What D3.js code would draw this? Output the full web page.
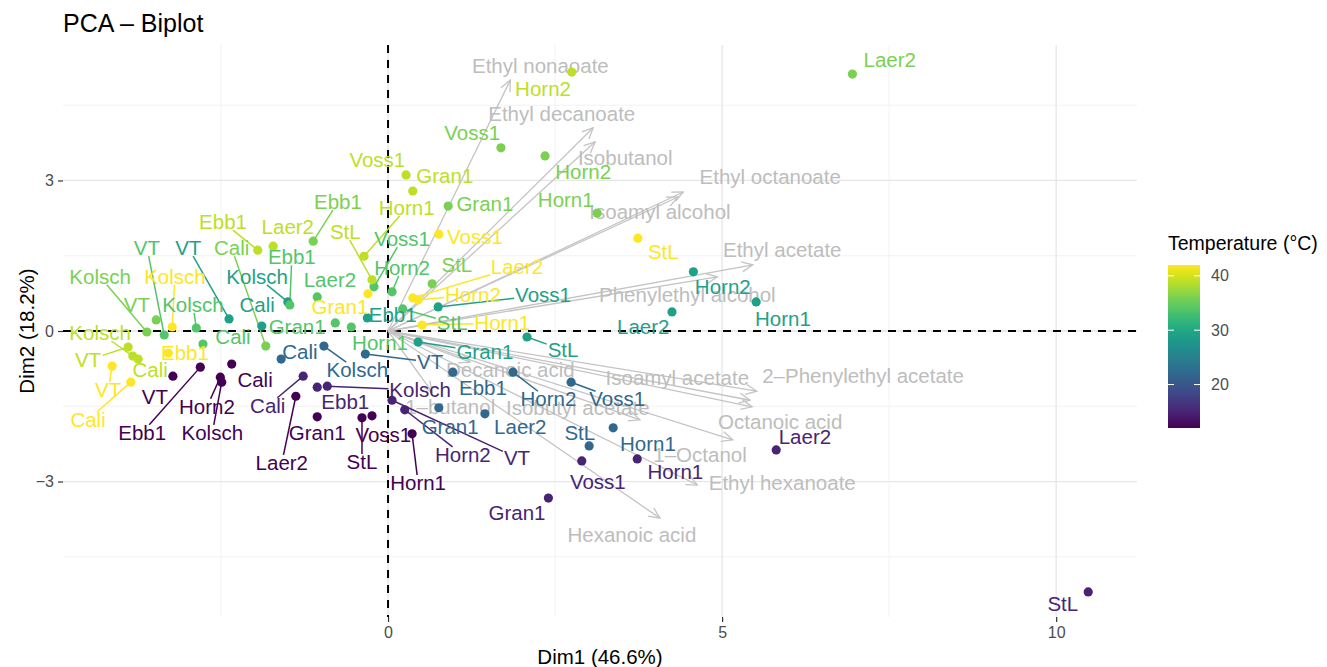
<!DOCTYPE html>
<html>
<head>
<meta charset="utf-8">
<script src="https://cdn.jsdelivr.net/npm/d3@7"></script>
<style>
  body { margin: 0; background: #fff; }
  text { font-family: "Liberation Sans", Arial, Helvetica, sans-serif; }
</style>
</head>
<body>
<svg id="chart" width="1327" height="667"></svg>
<script>
// individuals (strain x temperature), grouped by temperature
const indNames = [
  "VT","Ebb1","Horn2","Kolsch","Cali","Laer2","Gran1","StL","Voss1","Horn1",
  "Cali","Ebb1","Kolsch","VT","Horn2","Gran1","Voss1","Horn1","Laer2","StL",
  "Cali","Kolsch","VT","Ebb1","Horn2","Voss1","Gran1","Laer2","Horn1","StL",
  "VT","Kolsch","Cali","Ebb1","Voss1","Gran1","StL","Horn2","Horn1","Laer2",
  "VT","Kolsch","Ebb1","Laer2","Voss1","Horn2","Gran1","Horn1","StL","Cali",
  "Kolsch","VT","Cali","Ebb1","StL","Gran1","Voss1","Horn2","Horn1","Laer2",
  "Ebb1","Laer2","StL","Horn1","Voss1","Gran1","Horn2","Kolsch","VT","Cali",
  "Kolsch","VT","Cali","Ebb1","Gran1","Voss1","StL","Laer2","Horn2","Horn1"
];
const indTemp = [
  12,12,12,12,12,12,12,12,12,12,
  15,15,15,15,15,15,15,15,15,15,
  22,22,22,22,22,22,22,22,22,22,
  29,29,29,29,29,29,29,29,29,29,
  34,34,34,34,34,34,34,34,34,34,
  36,36,36,36,36,36,36,36,36,36,
  39,39,39,39,39,39,39,39,39,39,
  42,42,42,42,42,42,42,42,42,42
];
const indDim1 = [
  -3.22,-2.81,-2.51,-2.49,-2.34,-1.38,-1.06,-0.39,-0.24,0.36,
  -1.27,-1.06,-0.91,0.06,0.25,2.40,2.90,3.73,5.81,10.48,
  -1.60,-0.96,-0.34,0.97,1.87,2.74,0.76,1.45,3.37,3.01,
  -2.38,-1.50,-1.89,-0.31,0.75,0.45,2.08,4.57,5.51,4.25,
  -3.35,-2.87,-1.47,-1.06,-0.21,0.06,-0.79,-0.55,0.22,-2.77,
  -3.61,-3.47,-1.83,-1.12,0.66,0.90,1.69,2.35,3.13,6.95,
  -1.95,-1.72,-0.24,-0.36,0.27,0.37,2.75,-3.82,-3.89,-3.74,
  -3.23,-4.13,-3.85,-3.29,-0.30,0.76,3.74,0.37,0.45,0.51
];
const indDim2 = [
  -0.90,-0.72,-0.92,-1.02,-0.66,-1.30,-1.71,-1.73,-1.69,-2.05,
  -0.90,-1.12,-1.10,-1.38,-1.57,-3.33,-2.59,-2.55,-2.37,-5.20,
  -0.56,-0.30,-0.46,-0.82,-0.82,-1.02,-1.53,-1.65,-1.93,-2.29,
  0.24,0.58,0.10,0.26,0.48,-0.22,-0.12,1.18,0.58,0.38,
  -0.08,0.06,0.52,0.68,0.88,0.78,0.16,0.08,0.44,-0.26,
  -0.02,0.22,-0.30,1.79,0.94,2.49,3.65,3.49,2.35,5.12,
  1.61,1.69,1.02,1.49,3.11,2.79,5.16,-0.50,-0.32,-0.56,
  0.08,-0.70,-1.02,-0.44,0.74,1.93,1.85,0.66,0.62,0.12
];
// repelled label positions, same units
const labDim1 = [
  -3.49,-3.68,-2.71,-2.63,-1.99,-1.59,-1.06,-0.39,-0.07,0.45,
  -1.80,-0.64,0.48,1.93,1.12,1.93,3.14,4.30,6.24,10.10,
  -1.32,-0.46,0.63,1.42,2.40,3.43,0.93,1.98,3.89,2.87,
  -2.99,-1.96,-1.96,0.07,2.32,1.45,2.62,5.01,5.91,3.82,
  -3.61,-2.92,-1.44,-0.87,0.21,0.21,-1.36,-0.12,0.96,-2.32,
  -4.31,-3.76,-2.34,-0.75,1.03,1.45,1.26,2.92,2.66,7.51,
  -2.47,-1.50,-0.64,0.28,-0.16,0.85,2.32,-4.31,-4.49,-3.56,
  -3.19,-4.19,-4.49,-3.04,-0.72,1.30,4.12,1.93,1.27,1.71
];
const labDim2 = [
  -1.32,-2.03,-1.51,-2.03,-0.98,-2.63,-2.03,-2.61,-2.07,-3.03,
  -1.49,-1.42,-1.18,-2.53,-2.47,-3.63,-3.01,-2.81,-2.11,-5.44,
  -0.42,-0.78,-0.62,-1.14,-1.36,-1.36,-1.91,-1.91,-2.25,-2.03,
  1.65,1.08,0.52,0.32,0.72,-0.42,-0.38,0.88,0.24,0.08,
  1.65,0.52,1.47,1.02,1.83,1.26,0.08,-0.24,0.16,-0.12,
  1.08,0.52,1.65,2.57,1.32,2.53,3.95,3.17,2.61,5.40,
  2.17,2.07,1.97,2.45,3.41,3.09,4.82,-0.04,-0.58,-0.78,
  1.08,-1.18,-1.77,-0.44,0.48,1.87,1.57,1.28,0.72,0.16
];

// variables (arrows)
const varNames = [
  "Ethyl nonaoate","Ethyl decanoate","Isobutanol","Ethyl octanoate","Isoamyl alcohol",
  "Ethyl acetate","Phenylethyl alcohol","2\u2013Phenylethyl acetate","Isoamyl acetate",
  "Octanoic acid","1\u2013Octanol","Ethyl hexanoate","Hexanoic acid","Decanoic acid",
  "1\u2013butanol","Isobutyl acetate"
];
const varDim1 = [1.83,3.07,3.10,4.42,4.34,5.46,4.93,5.52,5.42,5.45,5.16,4.63,4.07,1.23,0.66,3.77];
const varDim2 = [5.00,4.05,3.77,2.77,2.67,1.32,1.08,-1.20,-1.38,-1.51,-2.17,-3.07,-3.73,-0.62,-1.22,-1.77];
const varLabDim1 = [2.28,2.60,3.55,5.72,4.07,5.90,4.48,7.11,4.33,5.87,4.67,5.90,3.65,1.83,0.93,2.84];
const varLabDim2 = [5.28,4.33,3.45,3.07,2.37,1.61,0.72,-0.90,-0.94,-1.81,-2.47,-3.03,-4.07,-0.78,-1.51,-1.53];

const xTicks = [0, 5, 10];
const yTicks = [-3, 0, 3];
const xMinor = [-2.5, 2.5, 7.5];
const yMinor = [-4.5, -1.5, 1.5, 4.5];
const legendTicks = [20, 30, 40];

const svg = d3.select("#chart");
const pLeft = 63, pRight = 1137, pTop = 45, pBottom = 617;
const labelSize = "20.5px";

const x = d3.scaleLinear().domain([-4.865, 11.21]).range([pLeft, pRight]);
const y = d3.scaleLinear().domain([-5.70, 5.70]).range([pBottom, pTop]);
const color = d3.scaleSequential(d3.interpolateViridis).domain([12, 42]);

// grid
const grid = svg.append("g");
grid.selectAll(".xm").data(xMinor).enter().append("line")
  .attr("x1", d => x(d)).attr("x2", d => x(d)).attr("y1", pTop).attr("y2", pBottom)
  .attr("stroke", "#efefef").attr("stroke-width", 0.8);
grid.selectAll(".ym").data(yMinor).enter().append("line")
  .attr("x1", pLeft).attr("x2", pRight).attr("y1", d => y(d)).attr("y2", d => y(d))
  .attr("stroke", "#efefef").attr("stroke-width", 0.8);
grid.selectAll(".xM").data(xTicks).enter().append("line")
  .attr("x1", d => x(d)).attr("x2", d => x(d)).attr("y1", pTop).attr("y2", pBottom)
  .attr("stroke", "#e6e6e6").attr("stroke-width", 1.3);
grid.selectAll(".yM").data(yTicks).enter().append("line")
  .attr("x1", pLeft).attr("x2", pRight).attr("y1", d => y(d)).attr("y2", d => y(d))
  .attr("stroke", "#e6e6e6").attr("stroke-width", 1.3);

// axes
const xAxis = svg.append("g").attr("transform", `translate(0,${pBottom})`)
  .call(d3.axisBottom(x).tickValues(xTicks).tickSize(5).tickPadding(5));
const yAxis = svg.append("g").attr("transform", `translate(${pLeft},0)`)
  .call(d3.axisLeft(y).tickValues(yTicks).tickSize(5).tickPadding(4));
[xAxis, yAxis].forEach(a => {
  a.select(".domain").remove();
  a.selectAll(".tick line").attr("stroke", "#333").attr("stroke-width", 1.2);
  a.selectAll(".tick text").attr("fill", "#4d4d4d").style("font-size", "16px")
    .style("font-family", "Liberation Sans, Arial, sans-serif");
});

// reference lines
svg.append("line").attr("x1", x(0)).attr("x2", x(0)).attr("y1", pTop).attr("y2", pBottom)
  .attr("stroke", "#000").attr("stroke-width", 2).attr("stroke-dasharray", "8,7");
svg.append("line").attr("x1", pLeft).attr("x2", pRight).attr("y1", y(0)).attr("y2", y(0))
  .attr("stroke", "#000").attr("stroke-width", 2).attr("stroke-dasharray", "8,7");

// arrows for variables
const defs = svg.append("defs");
defs.append("marker")
  .attr("id", "arr").attr("markerUnits", "userSpaceOnUse")
  .attr("viewBox", "-1 -7 13 14").attr("refX", 11).attr("refY", 0)
  .attr("markerWidth", 13).attr("markerHeight", 14).attr("orient", "auto")
  .append("path").attr("d", "M0,-5L11,0L0,5")
  .attr("fill", "none").attr("stroke", "#c4c4c4").attr("stroke-width", 1.3);

const vars = varNames.map((n, i) => ({ n, x: varDim1[i], y: varDim2[i], lx: varLabDim1[i], ly: varLabDim2[i] }));
svg.append("g").selectAll("line").data(vars).enter().append("line")
  .attr("x1", x(0)).attr("y1", y(0))
  .attr("x2", d => x(d.x)).attr("y2", d => y(d.y))
  .attr("stroke", "#c4c4c4").attr("stroke-width", 1.3)
  .attr("marker-end", "url(#arr)");
svg.append("g").selectAll("text").data(vars).enter().append("text")
  .attr("x", d => x(d.lx)).attr("y", d => y(d.ly)).attr("dy", "0.35em")
  .attr("text-anchor", "middle").attr("fill", "#bdbdbd").style("font-size", labelSize)
  .text(d => d.n);

// individuals
const inds = indNames.map((n, i) => ({
  n, t: indTemp[i], x: indDim1[i], y: indDim2[i], lx: labDim1[i], ly: labDim2[i]
}));
const segG = svg.append("g");
svg.append("g").selectAll("circle").data(inds).enter().append("circle")
  .attr("cx", d => x(d.x)).attr("cy", d => y(d.y)).attr("r", 4.6)
  .attr("fill", d => color(d.t));
const labels = svg.append("g").selectAll("text").data(inds).enter().append("text")
  .attr("x", d => x(d.lx)).attr("y", d => y(d.ly)).attr("dy", "0.35em")
  .attr("text-anchor", "middle").attr("fill", d => color(d.t)).style("font-size", labelSize)
  .text(d => d.n);

// segments from point to label box (like ggrepel), only when the label sits far enough
labels.each(function(d) {
  const b = this.getBBox();
  const cy = y(d.ly);
  const bx0 = b.x - 1, bx1 = b.x + b.width + 1, by0 = cy - 8, by1 = cy + 8;
  const px = x(d.x), py = y(d.y);
  const cx = (bx0 + bx1) / 2;
  if (px >= bx0 && px <= bx1 && py >= by0 && py <= by1) return;
  const gap = Math.hypot(Math.max(bx0 - px, 0, px - bx1), Math.max(by0 - py, 0, py - by1));
  if (gap < 15) return;
  const dx = px - cx, dy = py - cy;
  let tt = 1;
  if (dx !== 0) tt = Math.min(tt, Math.abs((dx > 0 ? bx1 - cx : bx0 - cx) / dx));
  if (dy !== 0) tt = Math.min(tt, Math.abs((dy > 0 ? by1 - cy : by0 - cy) / dy));
  segG.append("line").attr("x1", px).attr("y1", py)
    .attr("x2", cx + dx * tt).attr("y2", cy + dy * tt)
    .attr("stroke", color(d.t)).attr("stroke-width", 1.5);
});

// titles
svg.append("text").attr("x", pLeft).attr("y", 32).style("font-size", "25px").attr("fill", "#000")
  .text("PCA \u2013 Biplot");
svg.append("text").attr("x", (pLeft + pRight) / 2).attr("y", 664).attr("text-anchor", "middle")
  .style("font-size", labelSize).attr("fill", "#000").text("Dim1 (46.6%)");
svg.append("text").attr("transform", `translate(34,${(pTop + pBottom) / 2}) rotate(-90)`)
  .attr("text-anchor", "middle").style("font-size", labelSize).attr("fill", "#000").text("Dim2 (18.2%)");

// legend colourbar
const legY = d3.scaleLinear().domain(color.domain()).range([428, 265]);
const grad = defs.append("linearGradient").attr("id", "vir")
  .attr("x1", 0).attr("x2", 0).attr("y1", 1).attr("y2", 0);
d3.range(0, 1.0001, 0.05).forEach(s => {
  grad.append("stop").attr("offset", s).attr("stop-color", d3.interpolateViridis(s));
});
const legX = 1168, legW = 32;
const [tLo, tHi] = color.domain();
svg.append("rect").attr("x", legX).attr("y", legY(tHi)).attr("width", legW)
  .attr("height", legY(tLo) - legY(tHi)).attr("fill", "url(#vir)");
const lt = svg.append("g").selectAll("g").data(legendTicks).enter().append("g");
lt.append("line").attr("x1", legX).attr("x2", legX + 6).attr("y1", d => legY(d)).attr("y2", d => legY(d))
  .attr("stroke", "#fff").attr("stroke-width", 1);
lt.append("line").attr("x1", legX + legW - 6).attr("x2", legX + legW).attr("y1", d => legY(d)).attr("y2", d => legY(d))
  .attr("stroke", "#fff").attr("stroke-width", 1);
lt.append("text").attr("x", legX + legW + 11).attr("y", d => legY(d)).attr("dy", "0.35em")
  .attr("fill", "#4d4d4d").style("font-size", "16px").text(d => d);
svg.append("text").attr("x", legX).attr("y", 250).style("font-size", "19.5px").attr("fill", "#000")
  .text("Temperature (\u00b0C)");
</script>
</body>
</html>
